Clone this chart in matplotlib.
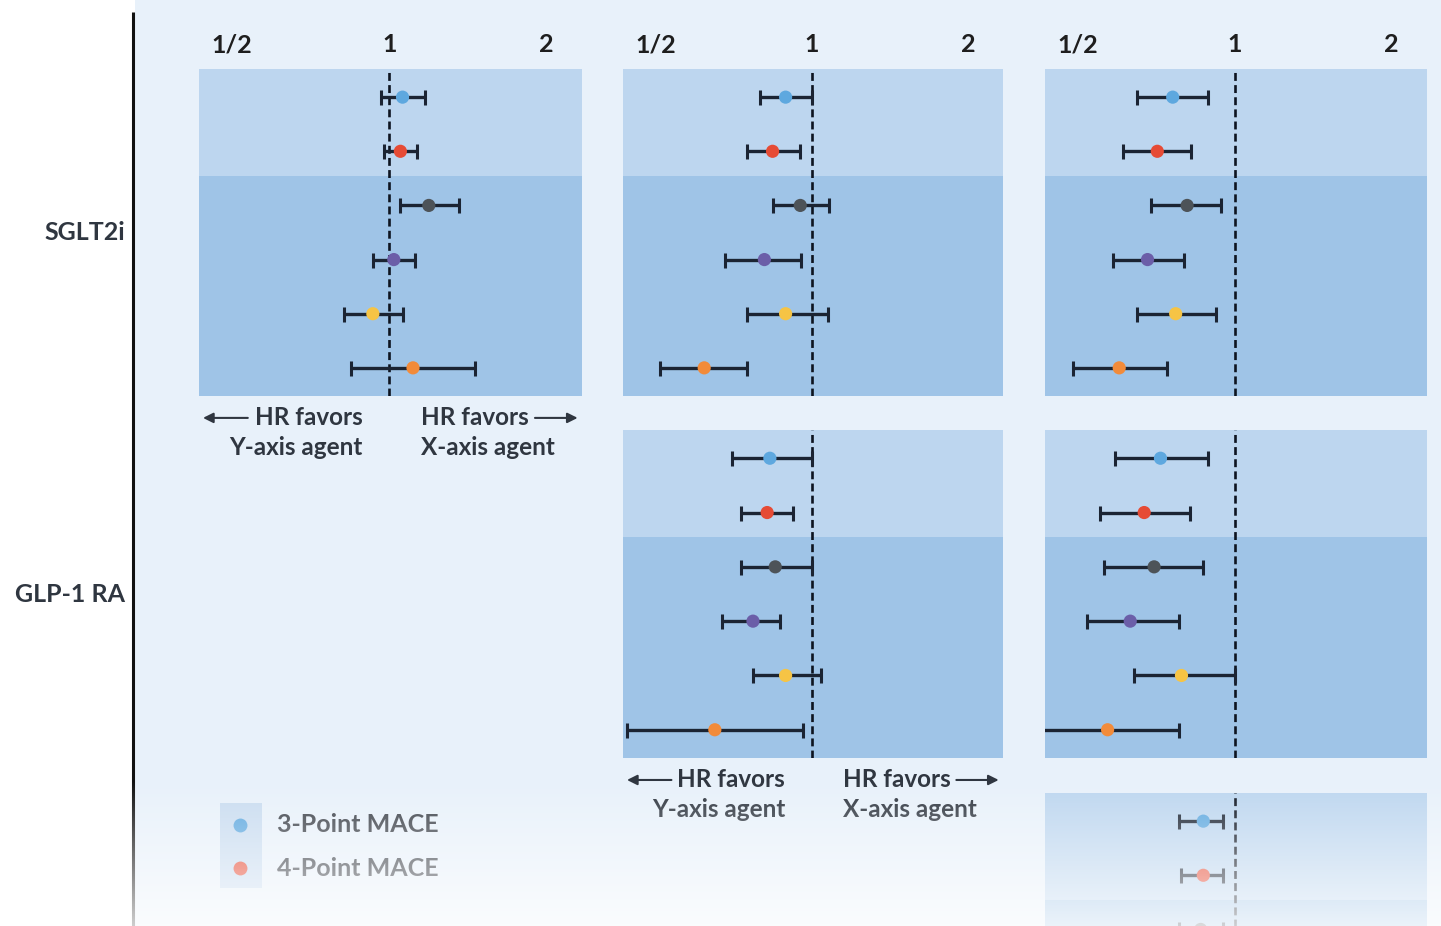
import numpy as np
import matplotlib
matplotlib.use("Agg")
import matplotlib.pyplot as plt
from matplotlib.ticker import NullLocator
from matplotlib.patches import Rectangle

plt.rcParams['font.family'] = ['Lato', 'DejaVu Sans']

# ---------------- data ----------------
row_labels = ['SGLT2i', 'GLP-1 RA']
tick_vals = [0.5, 1, 2]
tick_labels = ['1/2', '1', '2']
series_colors = ['#5ea8df', '#e64b35', '#4d5358', '#6b5ea8', '#f6c445', '#f28b3a']
legend_labels = ['3-Point MACE', '4-Point MACE']

# row 1 (SGLT2i), column 1
r1c1_hr = [1.06, 1.05, 1.19, 1.02, 0.93, 1.11]
r1c1_lo = [0.965, 0.975, 1.05, 0.93, 0.82, 0.845]
r1c1_hi = [1.17, 1.13, 1.36, 1.12, 1.06, 1.46]
# row 1 (SGLT2i), column 2
r1c2_hr = [0.89, 0.84, 0.95, 0.81, 0.89, 0.62]
r1c2_lo = [0.795, 0.75, 0.84, 0.68, 0.75, 0.51]
r1c2_hi = [1.0, 0.95, 1.08, 0.955, 1.075, 0.75]
# row 1 (SGLT2i), column 3
r1c3_hr = [0.76, 0.71, 0.81, 0.68, 0.77, 0.60]
r1c3_lo = [0.65, 0.61, 0.69, 0.585, 0.65, 0.49]
r1c3_hi = [0.89, 0.825, 0.94, 0.80, 0.92, 0.74]
# row 2 (GLP-1 RA), column 2
r2c2_hr = [0.83, 0.82, 0.85, 0.77, 0.89, 0.65]
r2c2_lo = [0.70, 0.73, 0.73, 0.67, 0.77, 0.44]
r2c2_hi = [1.0, 0.92, 1.0, 0.87, 1.04, 0.96]
# row 2 (GLP-1 RA), column 3
r2c3_hr = [0.72, 0.67, 0.70, 0.63, 0.79, 0.57]
r2c3_lo = [0.59, 0.55, 0.56, 0.52, 0.64, 0.40]
r2c3_hi = [0.89, 0.82, 0.87, 0.78, 1.0, 0.78]
# row 3, column 3 (cut off at bottom)
r3c3_hr = [0.87, 0.87, 0.86]
r3c3_lo = [0.78, 0.79, 0.78]
r3c3_hi = [0.95, 0.95, 0.95]

# ---------------- layout ----------------
W, H = 1441, 926
fig = plt.figure(figsize=(W / 100, H / 100), dpi=100)
fig.patch.set_facecolor('white')

BG = '#e8f1fa'
LIGHT = '#bdd6ef'
DARK = '#9fc4e7'
EBAR = '#1b2433'
TXT = '#2f3640'

col_x = [(199, 582), (623, 1003), (1045, 1427)]
row_y = [(69, 396), (430, 758), (793, 1120)]
XLIM = (2 ** -1.21, 2 ** 1.225)

# canvas axes in pixel coordinates
cv = fig.add_axes([0, 0, 1, 1], zorder=-5)
cv.set_xlim(0, W)
cv.set_ylim(H, 0)
cv.axis('off')
cv.add_patch(Rectangle((135, 0), W - 135, H, color=BG, lw=0))
cv.plot([133, 133], [12, H], color='#111111', lw=2.2, solid_capstyle='butt')

for lab, yy in zip(row_labels, [232, 594]):
    cv.text(125, yy, lab, ha='right', va='center', fontsize=18,
            fontweight='bold', color=TXT)

# legend
cv.add_patch(Rectangle((220, 803), 42, 85, color='#c9dcf0', lw=0))
for i, (lab, yy) in enumerate(zip(legend_labels, [825, 868])):
    cv.plot([240], [yy], 'o', ms=10, color=series_colors[i], mew=0)
    cv.text(277, yy, lab, ha='left', va='center', fontsize=18,
            fontweight='bold', color='#3b4048')

FS = 17.5


def panel(ri, ci, hr, lo, hi, top_ticks=False, favors=False):
    x0, x1 = col_x[ci]
    y0, y1 = row_y[ri]
    ax = fig.add_axes([x0 / W, 1 - y1 / H, (x1 - x0) / W, (y1 - y0) / H])
    ax.set_facecolor('none')
    ax.set_xscale('log', base=2)
    ax.set_xlim(*XLIM)
    ax.set_ylim(5.52, -0.52)
    ax.axhspan(-0.52, 1.45, color=LIGHT, lw=0, zorder=0)
    ax.axhspan(1.45, 5.52, color=DARK, lw=0, zorder=0)
    ax.axvline(1, color='#0d1420', lw=1.9, ls=(0, (3.0, 1.6)), zorder=3)
    hr = np.array(hr); lo = np.array(lo); hi = np.array(hi)
    y = np.arange(len(hr))
    ax.errorbar(hr, y, xerr=[hr - lo, hi - hr], fmt='none', ecolor=EBAR,
                elinewidth=2.4, capsize=5.4, capthick=2.2, zorder=4)
    ax.scatter(hr, y, s=90, c=series_colors[:len(hr)], lw=0, zorder=5)
    for s in ax.spines.values():
        s.set_visible(False)
    ax.set_yticks([])
    ax.xaxis.set_minor_locator(NullLocator())
    if top_ticks:
        ax.xaxis.tick_top()
        ax.set_xticks(tick_vals)
        ax.set_xticklabels(tick_labels, fontsize=18, fontweight='bold',
                           color='#1e1e1e')
        ax.tick_params(axis='x', length=0, pad=9)
    else:
        ax.set_xticks([])
    if favors:
        tr = ax.get_xaxis_transform()
        ax.text(0.888, -0.067, 'HR favors', transform=tr, ha='right',
                va='center', fontsize=FS, fontweight='bold', color=TXT)
        ax.text(0.888, -0.157, 'Y-axis agent', transform=tr, ha='right',
                va='center', fontsize=FS, fontweight='bold', color=TXT)
        ax.text(1.15, -0.067, 'HR favors', transform=tr, ha='left',
                va='center', fontsize=FS, fontweight='bold', color=TXT)
        ax.text(1.15, -0.157, 'X-axis agent', transform=tr, ha='left',
                va='center', fontsize=FS, fontweight='bold', color=TXT)
        ax.annotate('', xy=(0.440, -0.067), xytext=(0.536, -0.067),
                    xycoords=tr, textcoords=tr, annotation_clip=False,
                    arrowprops=dict(arrowstyle='-|>', lw=1.5, color=TXT,
                                    mutation_scale=15, shrinkA=0, shrinkB=0))
        ax.annotate('', xy=(2.293, -0.067), xytext=(1.9, -0.067),
                    xycoords=tr, textcoords=tr, annotation_clip=False,
                    arrowprops=dict(arrowstyle='-|>', lw=1.5, color=TXT,
                                    mutation_scale=15, shrinkA=0, shrinkB=0))
    return ax


panel(0, 0, r1c1_hr, r1c1_lo, r1c1_hi, top_ticks=True, favors=True)
panel(0, 1, r1c2_hr, r1c2_lo, r1c2_hi, top_ticks=True)
panel(0, 2, r1c3_hr, r1c3_lo, r1c3_hi, top_ticks=True)
panel(1, 1, r2c2_hr, r2c2_lo, r2c2_hi, favors=True)
panel(1, 2, r2c3_hr, r2c3_lo, r2c3_hi)
panel(2, 2, r3c3_hr, r3c3_lo, r3c3_hi)

# bottom fade overlay
ov = fig.add_axes([0, 0, 1, 1], zorder=50)
ov.axis('off')
ys = np.arange(H)
alpha = np.clip((ys - 780) / (H - 780), 0, 1) * 0.8
grad = np.ones((H, 1, 4))
grad[:, 0, 3] = alpha
ov.imshow(grad, extent=[0, 1, 0, 1], aspect='auto', origin='upper')
ov.set_xlim(0, 1)
ov.set_ylim(0, 1)

fig.savefig('out.png', dpi=100, facecolor='white')
